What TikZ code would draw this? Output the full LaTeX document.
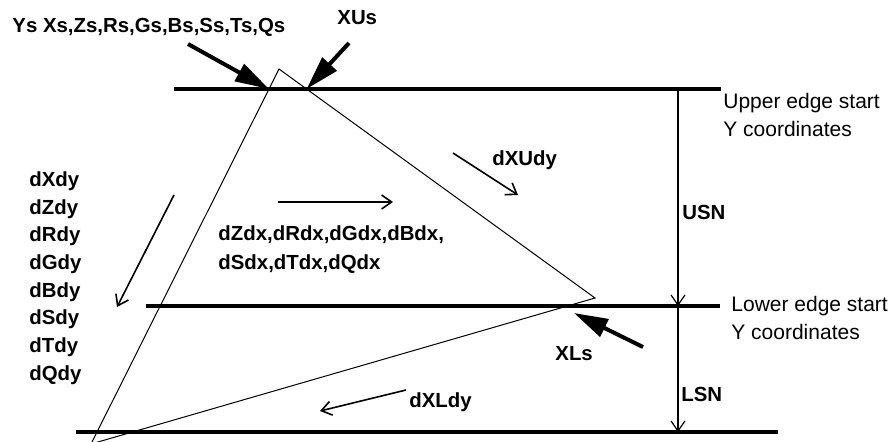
\documentclass[tikz,border=0pt]{standalone}
\usepackage{fontspec}
\setmainfont{Liberation Sans}
\usetikzlibrary{arrows.meta, positioning}

\begin{document}
\begin{tikzpicture}[x=0.5pt, y=-0.5pt,
    scanline/.style={line width=2pt},
    tri/.style={line width=0.5pt},
    span/.style={line width=0.6pt, -{Straight Barb[length=5pt, width=7pt]}},
    slope/.style={line width=0.8pt, -{Straight Barb[length=5pt, width=7pt]}},
    pointer/.style={line width=2pt, -{Triangle[length=17pt, width=9.5pt]}},
    lbl/.style={font=\bfseries\fontsize{10.2}{13.85}\selectfont, inner sep=0pt, align=left},
    note/.style={font=\fontsize{10.5}{14}\selectfont, inner sep=0pt, align=left}]

    \useasboundingbox (0,0) rectangle (890,441);

    % triangle
    \coordinate (top) at (279,69);
    \coordinate (right) at (595,298);
    \coordinate (bottom) at (91,444);
    \begin{scope}
        \clip (0,0) rectangle (890,441);
        \draw [tri] (top) -- (right) -- (bottom) -- cycle;
    \end{scope}

    % scan lines
    \coordinate (u0) at (174,89);  \coordinate (u1) at (721,89);
    \coordinate (m0) at (146,306); \coordinate (m1) at (720,306);
    \coordinate (b0) at (76,432);  \coordinate (b1) at (778,432);
    \draw [scanline] (u0) -- (u1);
    \draw [scanline] (m0) -- (m1);
    \draw [scanline] (b0) -- (b1);

    % spans
    \coordinate (su) at (678,91);
    \coordinate (sm) at (678,306);
    \coordinate (sb) at (678,432);
    \draw [span] (su) -- (sm);
    \draw [span] (sm) -- (sb);

    % labels
    \node [lbl, anchor=base west] (start) at (12,32) {Ys Xs,Zs,Rs,Gs,Bs,Ss,Ts,Qs};
    \node [lbl, anchor=base west] (xus) at (337,24) {XUs};
    \node [note, anchor=west] (upper) at (723,115) {Upper edge start\\Y coordinates};
    \node [note, anchor=west] (lower) at (731,318) {Lower edge start\\Y coordinates};
    \node [lbl, anchor=base west] (usn) at (682,219) {USN};
    \node [lbl, anchor=base west] (lsn) at (681,401) {LSN};
    \node [lbl, anchor=base west] (xls) at (555,360) {XLs};
    \node [lbl, anchor=base west] (dxudy) at (492,165) {dXUdy};
    \node [lbl, anchor=base west] (dxldy) at (409,407) {dXLdy};
    \node [lbl, anchor=west, font=\bfseries\fontsize{10.2}{14.5}\selectfont] (ddx) at (218,250)
        {dZdx,dRdx,dGdx,dBdx,\\dSdx,dTdx,dQdx};
    \node [lbl, anchor=west] (ddy) at (29,278)
        {dXdy\\dZdy\\dRdy\\dGdy\\dBdy\\dSdy\\dTdy\\dQdy};

    % pointers
    \coordinate (ysfrom) at (188,44);
    \coordinate (ysto) at (intersection of top--bottom and u0--u1);
    \coordinate (xusfrom) at (349,43);
    \coordinate (xusto) at (intersection of top--right and u0--u1);
    \coordinate (xlsfrom) at (643,347);
    \coordinate (xlsto) at (574,313);
    \draw [pointer] (ysfrom) -- (ysto);
    \draw [pointer] (xusfrom) -- (xusto);
    \draw [pointer] (xlsfrom) -- (xlsto);

    % slopes
    \coordinate (a0) at (453,153); \coordinate (a1) at (518,195);
    \coordinate (c0) at (278,202); \coordinate (c1) at (393,202);
    \coordinate (d0) at (174,195); \coordinate (d1) at (117,307);
    \coordinate (e0) at (406,390); \coordinate (e1) at (320,411);
    \draw [slope] (a0) -- (a1);
    \draw [slope] (c0) -- (c1);
    \draw [slope] (d0) -- (d1);
    \draw [slope] (e0) -- (e1);
\end{tikzpicture}
\end{document}
